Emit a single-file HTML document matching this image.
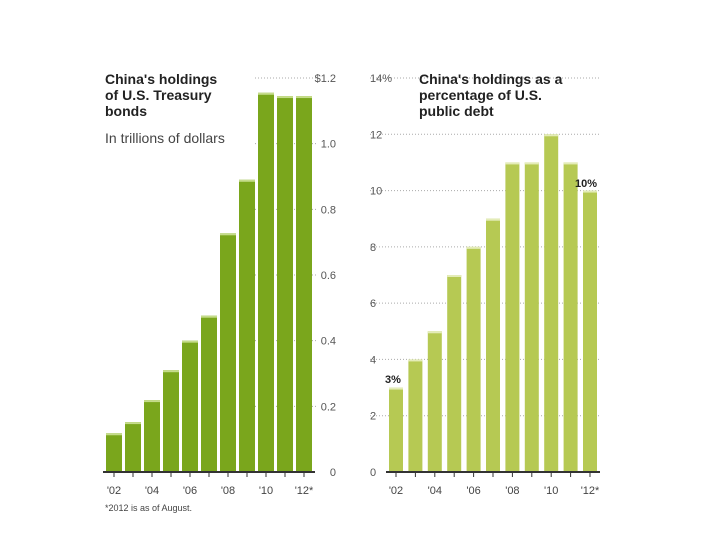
<!DOCTYPE html>
<html><head><meta charset="utf-8"><style>
body{margin:0;background:#fff}
svg{display:block;font-family:"Liberation Sans",sans-serif}
</style></head><body>
<svg width="720" height="540" viewBox="0 0 720 540">
<g id="left"></g>
<g id="right"></g>
<text x="105" y="84" font-size="14" font-weight="bold" fill="#222"><tspan x="105">China's holdings</tspan><tspan x="105" dy="16">of U.S. Treasury</tspan><tspan x="105" dy="16">bonds</tspan></text>
<text x="105" y="143" font-size="14" fill="#444">In trillions of dollars</text>
<text x="419" y="84" font-size="14" font-weight="bold" fill="#222"><tspan x="419">China's holdings as a</tspan><tspan x="419" dy="16">percentage of U.S.</tspan><tspan x="419" dy="16">public debt</tspan></text>
<text x="105" y="511" font-size="9" fill="#444">*2012 is as of August.</text>
<text x="385" y="383" font-size="11" font-weight="bold" fill="#222">3%</text>
<text x="575" y="187" font-size="11" font-weight="bold" fill="#222">10%</text>
</svg>
<script>
const years=["'02","'03","'04","'05","'06","'07","'08","'09","'10","'11","'12*"];
const treasury=[0.118,0.152,0.219,0.31,0.40,0.476,0.727,0.89,1.155,1.145,1.145];
const debtPct=[3,4,5,7,8,9,11,11,12,11,10];
const leftTicks=[0,0.2,0.4,0.6,0.8,1.0,1.2];
const leftTickLabels=["0","0.2","0.4","0.6","0.8","1.0","$1.2"];
const rightTicks=[0,2,4,6,8,10,12,14];
const rightTickLabels=["0","2","4","6","8","10","12","14%"];
const NS="http://www.w3.org/2000/svg";
function mk(p,tag,a){const e=document.createElementNS(NS,tag);for(const k in a)e.setAttribute(k,a[k]);p.appendChild(e);return e;}
function draw(g,vals,ticks,labels,max,x0,bw,pitch,color,hl,labX,anchor,gx1,gx2,nameP){
  const base=472,top=78;
  const y=v=>base-(v/max)*(base-top);
  const xb=i=>x0+i*pitch;
  ticks.forEach((t,i)=>{
    if(t>0){const l=mk(g,'line',{x1:gx1,x2:gx2,y1:y(t),y2:y(t),stroke:'#aaa','stroke-dasharray':'1,2','stroke-width':1});
    
    }
    const tx=mk(g,'text',{x:labX,y:y(t)+4,'font-size':11,fill:'#555','text-anchor':anchor});
    tx.textContent=labels[i];
    
    
  });
  vals.forEach((v,i)=>{
    const r=mk(g,'rect',{x:xb(i),y:y(v),width:bw,height:base-y(v),fill:color});
    
    
    const h=mk(g,'rect',{x:xb(i),y:y(v),width:bw,height:2,fill:hl});
    
    
    const tk=mk(g,'line',{x1:xb(i)+bw/2,x2:xb(i)+bw/2,y1:base,y2:base+5,stroke:'#333'});
    
    
    if(i%2==0){const t=mk(g,'text',{x:xb(i)+bw/2,y:base+22,'font-size':11,fill:'#444','text-anchor':'middle'});
    t.textContent=years[i];
    
    }
  });
  const ax=mk(g,'line',{x1:x0-3,x2:xb(vals.length-1)+bw+3,y1:base,y2:base,stroke:'#333','stroke-width':2});
  
  
}
draw(document.getElementById('left'),treasury,leftTicks,leftTickLabels,1.2,106,16,19,'#7aa61c','#c5dc8a',336,'end',255,318,'left');
draw(document.getElementById('right'),debtPct,rightTicks,rightTickLabels,14,389,14,19.4,'#b6c953','#e4ecb8',370,'start',370,600,'right');
</script>
</body></html>
